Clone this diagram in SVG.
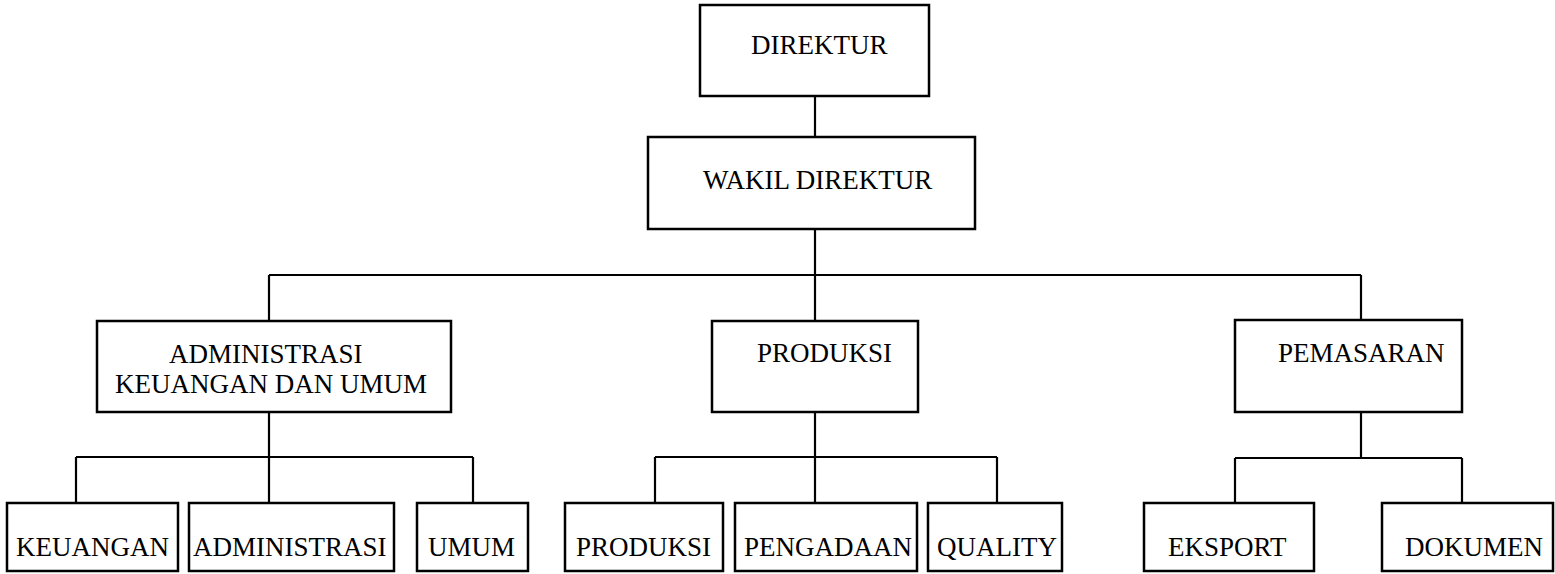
<svg xmlns="http://www.w3.org/2000/svg" width="1555" height="574" viewBox="0 0 1555 574">
<style>
.box{fill:#fff;stroke:#000;stroke-width:2.5}
.lbl{font-family:"Liberation Serif","Times New Roman",serif;font-size:27px;fill:#000}
.con{fill:none;stroke:#000;stroke-width:2.2}
</style>
<rect width="1555" height="574" fill="#fff"/>
<g id="connectors" class="con">
<path d="M815 96V137M815 229V275M269 275H1361M269 275V321M815 275V321M1361 275V320"/>
<path d="M269 412V457M76 457H473M76 457V503M269 457V503M473 457V503"/>
<path d="M815 412V457M655 457H997M655 457V503M815 457V503M997 457V503"/>
<path d="M1361 412V458M1235 458H1462M1235 458V503M1462 458V503"/>
</g>
<g id="direktur"><rect class="box" x="700" y="5" width="229" height="91"/><text class="lbl" x="751" y="54">DIREKTUR</text></g>
<g id="wakil-direktur"><rect class="box" x="648" y="137" width="327" height="92"/><text class="lbl" x="703" y="189">WAKIL DIREKTUR</text></g>
<g id="adm-keuangan-umum"><rect class="box" x="97" y="321" width="354" height="91"/><text class="lbl" x="169" y="363">ADMINISTRASI</text><text class="lbl" x="115" y="393">KEUANGAN DAN UMUM</text></g>
<g id="produksi"><rect class="box" x="712" y="321" width="206" height="91"/><text class="lbl" x="757" y="362">PRODUKSI</text></g>
<g id="pemasaran"><rect class="box" x="1235" y="320" width="227" height="92"/><text class="lbl" x="1278" y="362">PEMASARAN</text></g>
<g id="keuangan"><rect class="box" x="7" y="503" width="171" height="68"/><text class="lbl" x="16" y="556">KEUANGAN</text></g>
<g id="administrasi"><rect class="box" x="189" y="503" width="205" height="68"/><text class="lbl" x="193" y="556">ADMINISTRASI</text></g>
<g id="umum"><rect class="box" x="417" y="503" width="111" height="68"/><text class="lbl" x="428" y="556">UMUM</text></g>
<g id="produksi-sub"><rect class="box" x="565" y="503" width="158" height="68"/><text class="lbl" x="576" y="556">PRODUKSI</text></g>
<g id="pengadaan"><rect class="box" x="735" y="503" width="182" height="68"/><text class="lbl" x="744" y="556">PENGADAAN</text></g>
<g id="quality"><rect class="box" x="928" y="503" width="134" height="68"/><text class="lbl" x="937" y="556">QUALITY</text></g>
<g id="eksport"><rect class="box" x="1144" y="503" width="170" height="68"/><text class="lbl" x="1168" y="556">EKSPORT</text></g>
<g id="dokumen"><rect class="box" x="1382" y="503" width="171" height="68"/><text class="lbl" x="1405" y="556">DOKUMEN</text></g>
</svg>
